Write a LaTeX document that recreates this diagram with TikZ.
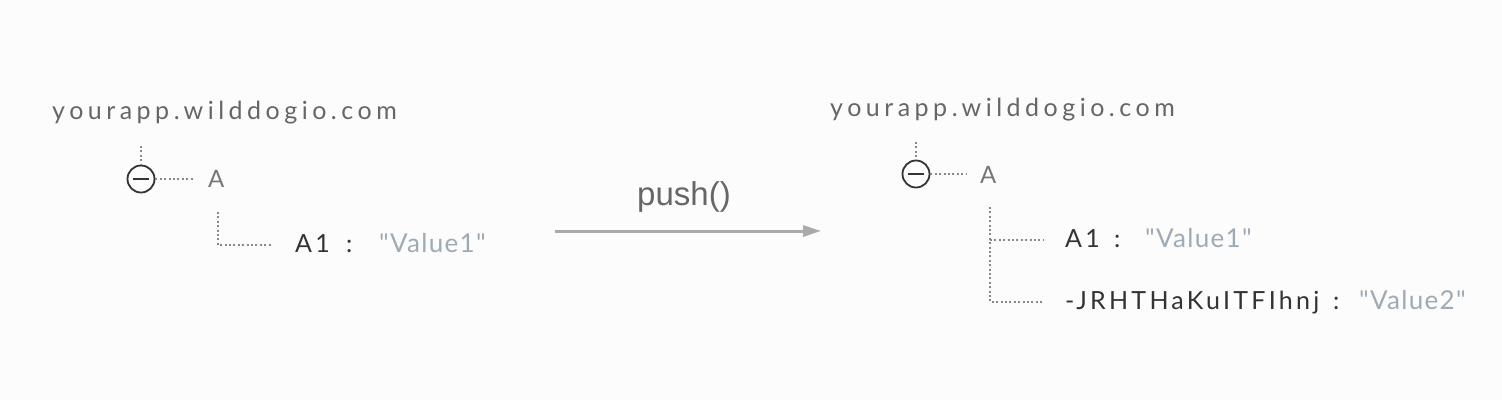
\documentclass[tikz,border=0pt]{standalone}
\usepackage{fontspec}
\usetikzlibrary{arrows.meta}
\newfontfamily\domfont{Lato}[LetterSpace=18]
\newfontfamily\keyfont{Lato}[LetterSpace=13]
\newfontfamily\valfont{Lato}[LetterSpace=5]
\newfontfamily\afont{Lato}
\newfontfamily\pushfont{Liberation Sans}
\definecolor{bgc}{HTML}{FCFCFC}
\definecolor{domc}{HTML}{666666}
\definecolor{ac}{HTML}{777777}
\definecolor{keyc}{HTML}{333333}
\definecolor{valc}{HTML}{9EABB6}
\definecolor{dotc}{HTML}{888888}
\definecolor{arrc}{HTML}{AAAAAA}
\begin{document}
\begin{tikzpicture}[x=1pt,y=-1pt,
  dom/.style={anchor=base west,inner sep=0pt,text=domc,font=\domfont\fontsize{25}{25}\selectfont},
  alab/.style={anchor=base west,inner sep=0pt,text=ac,font=\afont\fontsize{24}{24}\selectfont},
  keyt/.style={anchor=base west,inner sep=0pt,text=keyc,font=\keyfont\fontsize{25}{25}\selectfont},
  valt/.style={anchor=base west,inner sep=0pt,text=valc,font=\valfont\fontsize{26}{26}\selectfont},
  minusc/.style={circle,draw=keyc,line width=1.8pt,minimum size=27pt,inner sep=0pt},
  dotl/.style={draw=dotc,line width=2pt,dash pattern=on 2pt off 2.4pt},
  arr/.style={draw=arrc,line width=3pt,-{Triangle[length=18pt,width=11pt]}}
]
\fill[bgc] (0,0) rectangle (1502,400);
\useasboundingbox (0,0) rectangle (1502,400);

% ---------- left tree ----------
\node[dom] (dom1) at (52,119) {yourapp.wilddogio.com};
\node[minusc] (c1) at (141,179) {};
\draw[keyc,line width=1.8pt] ([xshift=-8pt]c1.center) -- ([xshift=8pt]c1.center);
\coordinate (c1top) at (141,146);
\node[alab] (a1) at (208,187) {A};
\draw[dotl] (c1top) -- (c1.north);
\coordinate (c1h) at (193,179);
\draw[dotl] (c1.east) -- (c1h);
\coordinate (t1top) at (218,212);
\coordinate (t1c) at (218,245);
\coordinate (t1e) at (272,245);
\draw[dotl] (t1top) -- (t1c) -- (t1e);
\node[keyt] (k1) at (295,252) {A1};
\node[keyt] (col1) at (346,252) {:};
\node[valt] (v1) at (379,252) {"Value1"};

% ---------- arrow ----------
\coordinate (arrS) at (555,231);
\coordinate (arrE) at (821,231);
\draw[arr] (arrS) -- (arrE);
\node[anchor=base,inner sep=0pt,text=domc,font=\pushfont\fontsize{33}{33}\selectfont] (push) at (684,205) {push()};

% ---------- right tree ----------
\node[dom] (dom2) at (830,116) {yourapp.wilddogio.com};
\node[minusc] (c2) at (916,174) {};
\draw[keyc,line width=1.8pt] ([xshift=-8pt]c2.center) -- ([xshift=8pt]c2.center);
\coordinate (c2top) at (916,142);
\node[alab] (a2) at (980,183) {A};
\draw[dotl] (c2top) -- (c2.north);
\coordinate (c2h) at (967,174);
\draw[dotl] (c2.east) -- (c2h);
\coordinate (t2top) at (990,207);
\coordinate (t2m) at (990,240);
\coordinate (t2me) at (1043,240);
\coordinate (t2b) at (990,302);
\coordinate (t2be) at (1043,302);
\draw[dotl] (t2top) -- (t2b) -- (t2be);
\draw[dotl] (t2m) -- (t2me);
\node[keyt] (k2) at (1065,247) {A1};
\node[keyt] (col2) at (1114,247) {:};
\node[valt] (v2) at (1145,247) {"Value1"};
\node[keyt] (k3) at (1065,309) {-JRHTHaKuITFIhnj};
\node[keyt] (col3) at (1333,309) {:};
\node[valt] (v3) at (1359,309) {"Value2"};
\end{tikzpicture}
\end{document}
